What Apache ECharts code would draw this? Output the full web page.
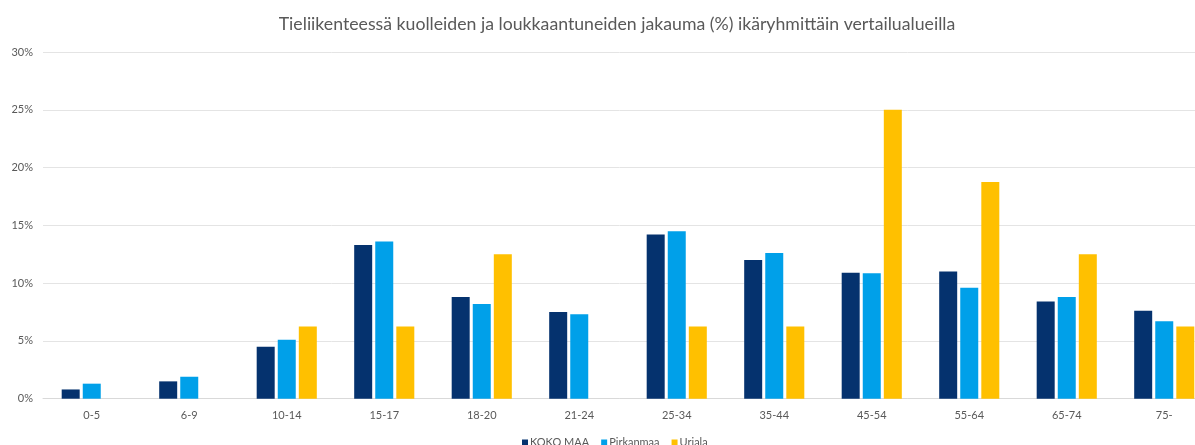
<!DOCTYPE html>
<html>
<head>
<meta charset="utf-8">
<script src="https://cdn.jsdelivr.net/npm/echarts@6/dist/echarts.min.js"></script>
<style>html,body{margin:0;padding:0;background:#fff;}#c{width:1195px;height:445px;}</style>
</head>
<body>
<div id="c"></div>
<script>
const categories = ['0-5','6-9','10-14','15-17','18-20','21-24','25-34','35-44','45-54','55-64','65-74','75-'];
const seriesNames = ['KOKO MAA','Pirkanmaa','Uriala'];
const kokoMaa   = [0.8, 1.5, 4.5, 13.3, 8.8, 7.5, 14.2, 12.0, 10.9, 11.0, 8.4, 7.6];
const pirkanmaa = [1.3, 1.9, 5.1, 13.6, 8.2, 7.3, 14.5, 12.6, 10.85, 9.6, 8.8, 6.7];
const uriala    = [0, 0, 6.25, 6.25, 12.5, 0, 6.25, 6.25, 25.0, 18.75, 12.5, 6.25];
const yTicks = [0, 5, 10, 15, 20, 25, 30];
const titleText = 'Tieliikenteessä kuolleiden ja loukkaantuneiden jakauma (%) ikäryhmittäin vertailualueilla';

const colors = ['#05326e', '#00a0e9', '#ffc000'];
const font = 'Lato, "Open Sans", sans-serif';
const chart = echarts.init(document.getElementById('c'), null, {renderer: 'canvas'});
const data = [kokoMaa, pirkanmaa, uriala];
chart.setOption({
  animation: false,
  backgroundColor: '#fff',
  title: {
    text: titleText, left: 612, top: 10, textAlign: 'center',
    textStyle: {fontFamily: font, fontSize: 17.7, fontWeight: 'normal', color: '#595959'}
  },
  legend: {
    data: seriesNames, left: 517, top: 432, itemWidth: 6, itemHeight: 6, itemGap: 12,
    icon: 'rect',
    textStyle: {fontFamily: font, fontSize: 11, color: '#595959', padding: [0, 0, 0, -3]}
  },
  grid: {left: 43, top: 52, width: 1170, height: 346.7, containLabel: false, outerBoundsMode: 'none'},
  xAxis: {
    type: 'category', data: categories,
    axisLine: {lineStyle: {color: '#d9d9d9'}},
    axisTick: {show: false},
    axisLabel: {fontFamily: font, fontSize: 11, color: '#595959', margin: 11}
  },
  yAxis: {
    type: 'value', min: yTicks[0], max: yTicks[yTicks.length - 1], interval: 5,
    axisLine: {show: false}, axisTick: {show: false},
    splitLine: {lineStyle: {color: '#e4e4e4'}},
    axisLabel: {fontFamily: font, fontSize: 11, color: '#595959', margin: 10, formatter: v => v + '%'}
  },
  series: seriesNames.map((n, i) => ({
    name: n, type: 'bar', data: data[i], barWidth: 18, barGap: '17%',
    itemStyle: {color: colors[i]}
  }))
});
</script>
</body>
</html>
